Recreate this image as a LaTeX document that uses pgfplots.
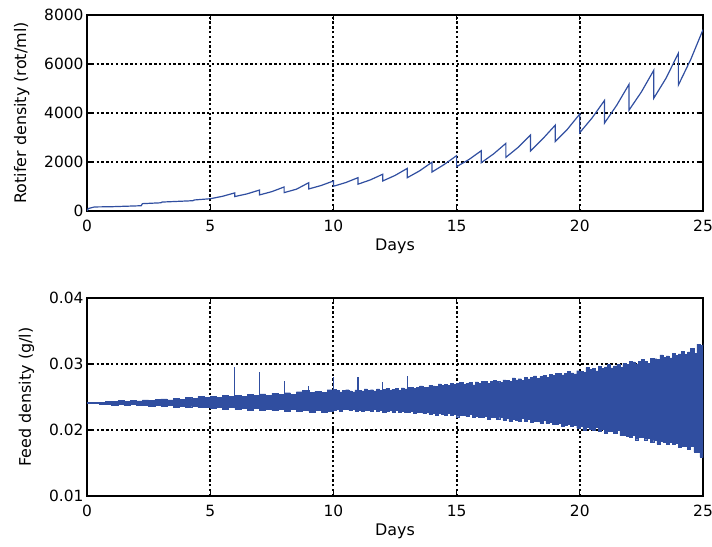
\documentclass[border=0pt]{standalone}
\usepackage{fontspec}
\setmainfont{DejaVu Sans}
\usepackage{pgfplots}
\pgfplotsset{compat=1.18}
\definecolor{mblue}{RGB}{48,78,160}
\pgfplotsset{
  myaxis/.style={
    scale only axis, width=616bp, anchor=south west,
    xmin=0, xmax=25, xtick={0,5,...,25},
    grid=major,
    major grid style={black, line width=1.9bp, dash pattern=on 2.3bp off 2.5bp},
    axis line style={line width=1.7bp},
    every tick/.style={black, line width=1.2bp},
    major tick length=5bp, tick align=inside,
    ticklabel style={font=\fontsize{15.5}{18}\selectfont},
    label style={font=\fontsize{16}{19}\selectfont},
    /pgf/number format/assume math mode=true,
    /pgf/number format/1000 sep={},
    scaled y ticks=false,
    xticklabel style={yshift=-5.5bp},
    ylabel shift=8bp,
    xlabel={Days},
  }
}
\begin{document}
\begin{tikzpicture}
\useasboundingbox (0bp,0bp) rectangle (712bp,547bp);
\begin{axis}[myaxis, height=196bp, at={(87bp,336bp)},
  ymin=0, ymax=8000, ytick={0,2000,...,8000},
  ylabel={Rotifer density (rot/ml)}]
\addplot[mblue, line width=1.2bp] coordinates {
(0,0) (0.05,100) (0.3,165) (1,175) (2.2,215) (2.25,300) (3,335) (3.05,365)
(4.3,420) (4.35,450) (5,500) (5.5,600) (6,740) (6,590) (6.5,700) (7,855)
(7,655) (7.5,790) (8,980) (8,750) (8.5,890) (9,1155) (9,900) (9.5,1040)
(10,1225) (10,1010) (10.5,1160) (11,1360) (11,1095) (11.5,1270) (12,1500)
(12,1225) (12.5,1450) (13,1740) (13,1360) (13.5,1640) (14,1990) (14,1590)
(14.5,1900) (15,2260) (15,1810) (15.5,2100) (16,2460) (16,1970) (16.5,2330)
(17,2760) (17,2190) (17.5,2600) (18,3100) (18,2450) (18.5,2950) (19,3500)
(19,2830) (19.5,3340) (20,3960) (20,3200) (20.5,3800) (21,4510) (21,3585)
(21.5,4320) (22,5175) (22,4120) (22.5,4860) (23,5740) (23,4600) (23.5,5420)
(24,6440) (24,5140) (24.5,6180) (25,7400)
};
\end{axis}
\begin{axis}[myaxis, height=198bp, at={(87bp,51bp)},
  ymin=0.01, ymax=0.04, ytick={0.01,0.02,0.03,0.04},
  yticklabel style={/pgf/number format/fixed, /pgf/number format/fixed zerofill, /pgf/number format/precision=2},
  ylabel={Feed density (g/l)}]
\addplot[mblue, fill=mblue, line width=0.4bp, const plot] coordinates {
(0,0.02418) (0.5,0.02418) (0.75,0.02438) (1,0.02430) (1.25,0.02445) (1.5,0.02438)
(1.75,0.02448) (2,0.02440) (2.25,0.02455) (2.5,0.02445) (2.75,0.02462) (3,0.02470)
(3.25,0.02455) (3.5,0.02478) (3.75,0.02468) (4,0.02490) (4.25,0.02480) (4.5,0.02505)
(4.75,0.02490) (5,0.02512) (5.25,0.02500) (5.5,0.02525) (5.75,0.02505) (6,0.02530)
(6.25,0.02515) (6.5,0.02540) (6.75,0.02520) (7,0.02548) (7.25,0.02530) (7.5,0.02555)
(7.75,0.02535) (8,0.02565) (8.25,0.02545) (8.5,0.02580) (8.75,0.02600) (9,0.02575)
(9.25,0.02590) (9.5,0.02570) (9.75,0.02610) (10,0.02620)
(10.125,0.02599) (10.25,0.02579) (10.375,0.02597) (10.5,0.02610) (10.625,0.02591) (10.75,0.02579) (10.875,0.02609) (11,0.02600)
(11.125,0.02591) (11.25,0.02623) (11.375,0.02602) (11.5,0.02610) (11.625,0.02593) (11.75,0.02622) (11.875,0.02601) (12,0.02613)
(12.125,0.02631) (12.25,0.02603) (12.375,0.02619) (12.5,0.02630) (12.625,0.02604) (12.75,0.02637) (12.875,0.02625) (13,0.02650)
(13.125,0.02647) (13.25,0.02630) (13.375,0.02651) (13.5,0.02667) (13.625,0.02651) (13.75,0.02643) (13.875,0.02675) (14,0.02670)
(14.125,0.02664) (14.25,0.02697) (14.375,0.02678) (14.5,0.02690) (14.625,0.02674) (14.75,0.02704) (14.875,0.02688) (15,0.02703)
(15.125,0.02727) (15.25,0.02687) (15.375,0.02707) (15.5,0.02721) (15.625,0.02684) (15.75,0.02729) (15.875,0.02710) (16,0.02741)
(16.125,0.02735) (16.25,0.02709) (16.375,0.02735) (16.5,0.02756) (16.625,0.02732) (16.75,0.02718) (16.875,0.02760) (17,0.02750)
(17.125,0.02741) (17.25,0.02788) (17.375,0.02761) (17.5,0.02777) (17.625,0.02754) (17.75,0.02798) (17.875,0.02774) (18,0.02794)
(18.125,0.02821) (18.25,0.02785) (18.375,0.02809) (18.5,0.02826) (18.625,0.02793) (18.75,0.02841) (18.875,0.02826) (19,0.02861)
(19.125,0.02857) (19.25,0.02834) (19.375,0.02862) (19.5,0.02886) (19.625,0.02865) (19.75,0.02852) (19.875,0.02898) (20,0.02890)
(20.125,0.02877) (20.25,0.02945) (20.375,0.02915) (20.5,0.02930) (20.625,0.02897) (20.75,0.02960) (20.875,0.02929) (21,0.02955)
(21.125,0.02992) (21.25,0.02940) (21.375,0.02972) (21.5,0.02995) (21.625,0.02947) (21.75,0.03015) (21.875,0.02992) (22,0.03040)
(22.125,0.03034) (22.25,0.03002) (22.375,0.03041) (22.5,0.03075) (22.625,0.03045) (22.75,0.03009) (22.875,0.03089) (23,0.03080)
(23.125,0.03069) (23.25,0.03138) (23.375,0.03101) (23.5,0.03125) (23.625,0.03094) (23.75,0.03158) (23.875,0.03126) (24,0.03155)
(24.125,0.03196) (24.25,0.03148) (24.375,0.03184) (24.5,0.03240) (24.625,0.03166) (24.75,0.03300) (24.875,0.03280) (25,0.03320)
(25,0.01590) (24.875,0.01664) (24.75,0.01668) (24.625,0.01747) (24.5,0.01706) (24.375,0.01755) (24.25,0.01759) (24.125,0.01733)
(24,0.01800) (23.875,0.01778) (23.75,0.01809) (23.625,0.01782) (23.5,0.01810) (23.375,0.01834) (23.25,0.01787) (23.125,0.01846)
(23,0.01820) (22.875,0.01880) (22.75,0.01853) (22.625,0.01892) (22.5,0.01885) (22.375,0.01853) (22.25,0.01922) (22.125,0.01896)
(22,0.01905) (21.875,0.01928) (21.75,0.01916) (21.625,0.01990) (21.5,0.01944) (21.375,0.01988) (21.25,0.01977) (21.125,0.01946)
(21,0.02010) (20.875,0.01988) (20.75,0.02036) (20.625,0.01990) (20.5,0.02018) (20.375,0.02041) (20.25,0.01994) (20.125,0.02052)
(20,0.02032) (19.875,0.02077) (19.75,0.02052) (19.625,0.02083) (19.5,0.02079) (19.375,0.02056) (19.25,0.02106) (19.125,0.02087)
(19,0.02093) (18.875,0.02116) (18.75,0.02102) (18.625,0.02143) (18.5,0.02109) (18.375,0.02139) (18.25,0.02137) (18.125,0.02114)
(18,0.02158) (17.875,0.02140) (17.75,0.02172) (17.625,0.02137) (17.5,0.02155) (17.375,0.02170) (17.25,0.02134) (17.125,0.02173)
(17,0.02152) (16.875,0.02195) (16.75,0.02166) (16.625,0.02195) (16.5,0.02189) (16.375,0.02164) (16.25,0.02211) (16.125,0.02189)
(16,0.02193) (15.875,0.02207) (15.75,0.02189) (15.625,0.02238) (15.5,0.02202) (15.375,0.02230) (15.25,0.02226) (15.125,0.02201)
(15,0.02238) (14.875,0.02225) (14.75,0.02250) (14.625,0.02226) (14.5,0.02240) (14.375,0.02252) (14.25,0.02228) (14.125,0.02256)
(14,0.02242) (13.875,0.02272) (13.75,0.02252) (13.625,0.02273) (13.5,0.02268) (13.375,0.02250) (13.25,0.02283) (13.125,0.02267)
(13,0.02270) (12.875,0.02280) (12.75,0.02265) (12.625,0.02300) (12.5,0.02274) (12.375,0.02294) (12.25,0.02291) (12.125,0.02273)
(12,0.02303) (11.875,0.02288) (11.75,0.02310) (11.625,0.02284) (11.5,0.02295) (11.375,0.02305) (11.25,0.02278) (11.125,0.02304)
(11,0.02287) (10.875,0.02316) (10.75,0.02294) (10.625,0.02315) (10.5,0.02308) (10.375,0.02288) (10.25,0.02320) (10.125,0.02304)
(10,0.02285) (9.75,0.02265) (9.5,0.02295) (9.25,0.02275) (9,0.02295) (8.75,0.02285)
(8.5,0.02310) (8.25,0.02290) (8,0.02315) (7.75,0.02295) (7.5,0.02320) (7.25,0.02300)
(7,0.02325) (6.75,0.02305) (6.5,0.02335) (6.25,0.02312) (6,0.02340) (5.75,0.02320)
(5.5,0.02345) (5.25,0.02330) (5,0.02350) (4.75,0.02338) (4.5,0.02360) (4.25,0.02345)
(4,0.02365) (3.75,0.02352) (3.5,0.02372) (3.25,0.02360) (3,0.02375) (2.75,0.02365)
(2.5,0.02380) (2.25,0.02370) (2,0.02385) (1.75,0.02372) (1.5,0.02388) (1.25,0.02378)
(1,0.02392) (0.75,0.02385) (0.5,0.02400) (0,0.02402)
} -- cycle;
\addplot[mblue, line width=1.2bp] coordinates {(6,0.0250) (6,0.0295)};
\addplot[mblue, line width=1.2bp] coordinates {(7,0.0252) (7,0.0288)};
\addplot[mblue, line width=1.2bp] coordinates {(8,0.0254) (8,0.0275)};
\addplot[mblue, line width=1.2bp] coordinates {(9,0.0256) (9,0.0266)};
\addplot[mblue, line width=1.2bp] coordinates {(10,0.0258) (10,0.0280)};
\addplot[mblue, line width=1.2bp] coordinates {(11,0.0260) (11,0.0280)};
\addplot[mblue, line width=1.2bp] coordinates {(12,0.0262) (12,0.0272)};
\addplot[mblue, line width=1.2bp] coordinates {(13,0.0264) (13,0.0282)};
\end{axis}
\end{tikzpicture}
\end{document}
